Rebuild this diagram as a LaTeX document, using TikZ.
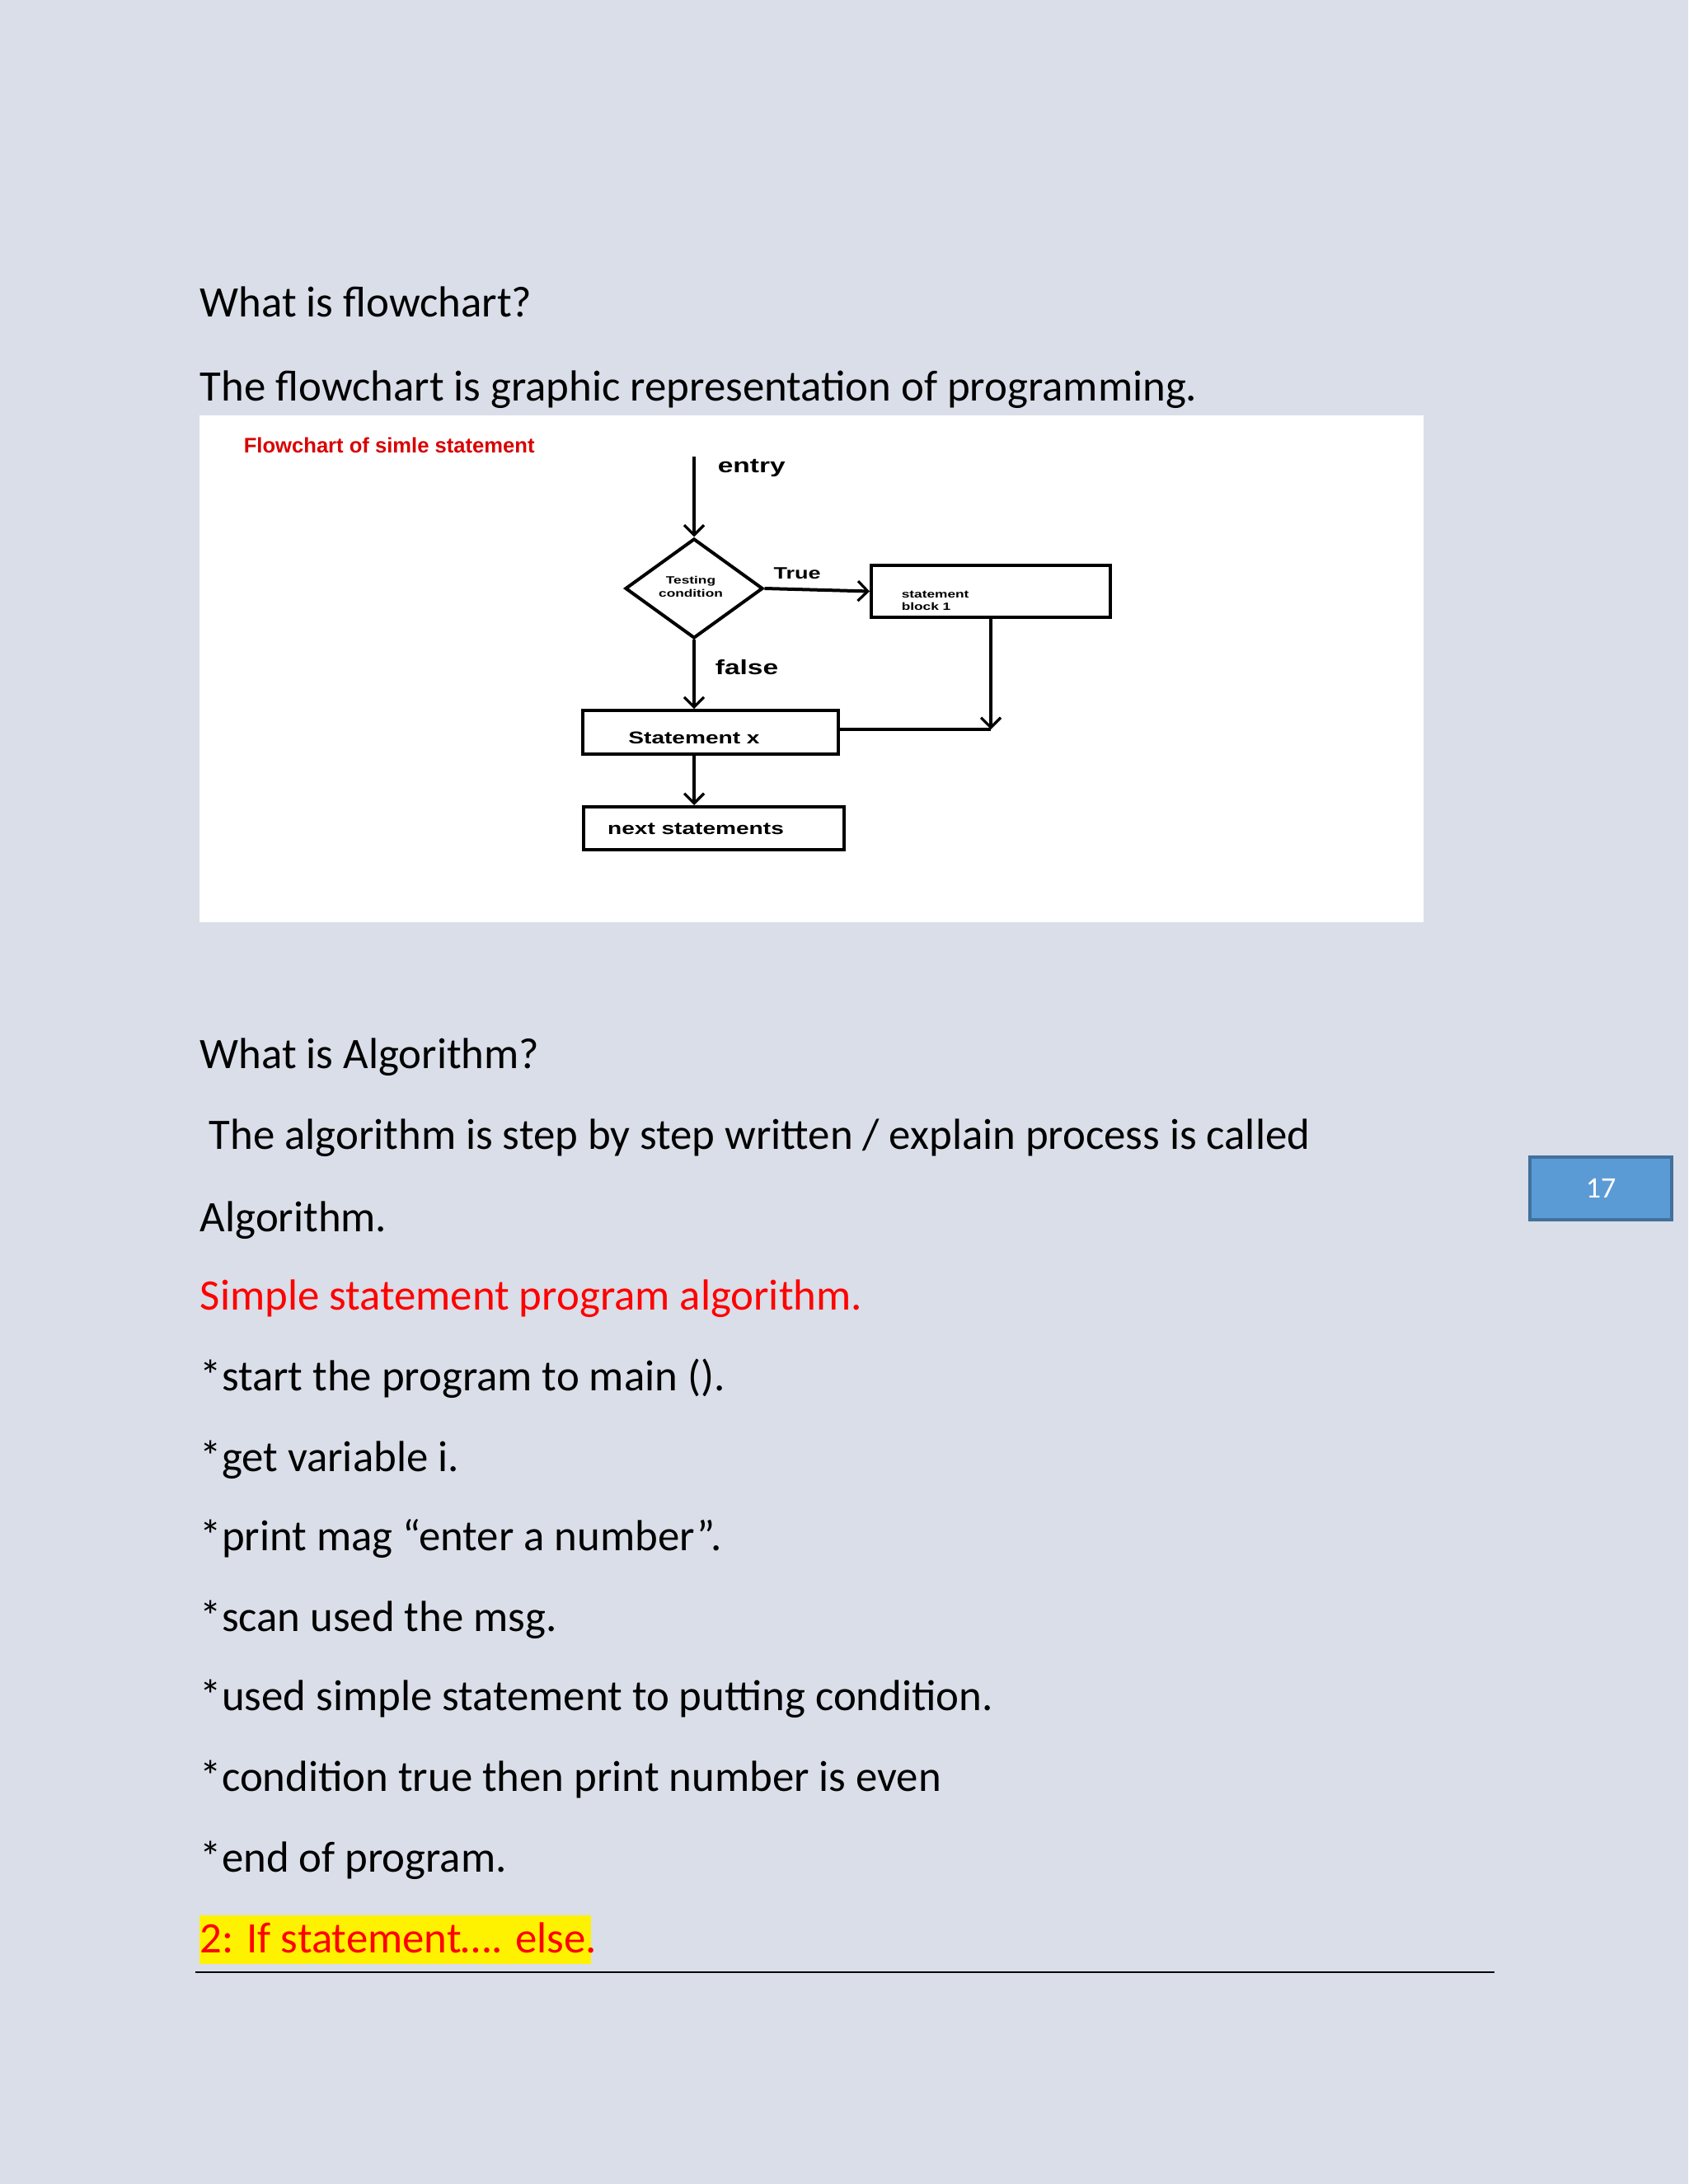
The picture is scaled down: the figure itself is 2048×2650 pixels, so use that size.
\documentclass[tikz,border=0pt]{standalone}
\usepackage{fontspec}
\setmainfont{Carlito}
\newfontfamily\imp[FakeStretch=1.35]{Liberation Sans}
\newfontfamily\impt{Liberation Sans}
\usetikzlibrary{arrows.meta,shapes.geometric}
\definecolor{bg}{HTML}{D9DEE8}
\definecolor{pgblue}{HTML}{5B9BD5}
\definecolor{pgblueb}{HTML}{41719C}
\tikzset{
  body/.style={anchor=base west,inner sep=0pt,font=\fontsize{13.2}{15}\selectfont},
  fc/.style={inner sep=0pt},
  box/.style={draw,line width=1pt,inner sep=0pt},
  flow/.style={line width=1pt,-{Straight Barb[length=3pt,width=6pt,line width=0.8pt]}},
}
\begin{document}
\begin{tikzpicture}[x=0.25pt,y=-0.25pt]
\useasboundingbox (0,0) rectangle (2048,2650);
\fill[bg] (0,0) rectangle (2048,2650);
\fill[white] (242,504) rectangle (1727,1119);
% texts
\node[body] (t1) at (242,385) {What is flowchart?};
\node[body] (t2) at (242,487) {The flowchart is graphic representation of programming.};
\node[body] (t3) at (242,1296) {What is Algorithm?};
\node[body] (t4) at (253,1394) {The algorithm is step by step written / explain process is called};
\node[body] (t5) at (242,1494) {Algorithm.};
\node[body,text=red] (t6) at (242,1589) {Simple statement program algorithm.};
\node[body] (t7) at (242,1687) {*start the program to main ().};
\node[body] (t8) at (242,1785) {*get variable i.};
\node[body] (t9) at (242,1881) {*print mag “enter a number”.};
\node[body] (t10) at (242,1979) {*scan used the msg.};
\node[body] (t11) at (242,2075) {*used simple statement to putting condition.};
\node[body] (t12) at (242,2173) {*condition true then print number is even};
\node[body] (t13) at (242,2271) {*end of program.};
\fill[yellow] (242,2324) rectangle (717,2383);
\node[body,text=red] (t14) at (242,2369) {2: If statement…. else.};
\draw[line width=0.6pt] (237,2393) -- (1813,2393);
\node[draw=pgblueb,fill=pgblue,line width=0.8pt,minimum width=43pt,minimum height=19pt,inner sep=0pt,text=white,font=\fontsize{9}{10}\selectfont] (pg) at (1942,1442) {17};
% flowchart
\node[fc,text=red!85!black,font=\impt\bfseries\fontsize{6.4}{7}\selectfont,anchor=west] (title) at (295,540) {Flowchart of simle statement};
\coordinate (entry) at (842,554);
\node[fc,font=\imp\bfseries\fontsize{6.2}{7}\selectfont,anchor=west] (entl) at (870,568) {entry};
\node[draw,shape=diamond,line width=1pt,inner sep=0pt,minimum width=41.75pt,minimum height=30.25pt] (dia) at (842,714) {};
\node[fc,font=\imp\bfseries\fontsize{3.2}{3.8}\selectfont,align=center] (dial) at (838,712) {Testing\\condition};
\node[box,minimum width=72.5pt,minimum height=15.75pt] (b1) at (1202,717.5) {};
\node[fc,font=\imp\bfseries\fontsize{3.2}{3.8}\selectfont,align=left,anchor=west] (b1l) at (1093,729) {statement\\block 1};
\node[fc,font=\imp\bfseries\fontsize{5}{6}\selectfont] (tru) at (967,696) {True};
\node[box,minimum width=77.5pt,minimum height=13.2pt] (bx) at (862,888.5) {};
\node[fc,font=\imp\bfseries\fontsize{5.2}{6}\selectfont] (bxl) at (842,895) {Statement x};
\node[fc,font=\imp\bfseries\fontsize{6.2}{7}\selectfont] (fal) at (906,810) {false};
\node[box,minimum width=79pt,minimum height=13pt] (nx) at (866,1005) {};
\node[fc,font=\imp\bfseries\fontsize{5.2}{6}\selectfont] (nxl) at (844,1006) {next statements};
\coordinate (m) at (1202,885);
\draw[flow] (entry) -- (dia.north);
\draw[flow] (dia.east) -- (b1.west);
\draw[flow] (dia.south) -- (dia.south |- bx.north);
\draw[flow] (b1.south -| m) -- (m);
\draw[line width=1pt] (bx.east |- m) -- (m);
\draw[flow] (dia.south |- bx.south) -- (dia.south |- nx.north);
\end{tikzpicture}
\end{document}
